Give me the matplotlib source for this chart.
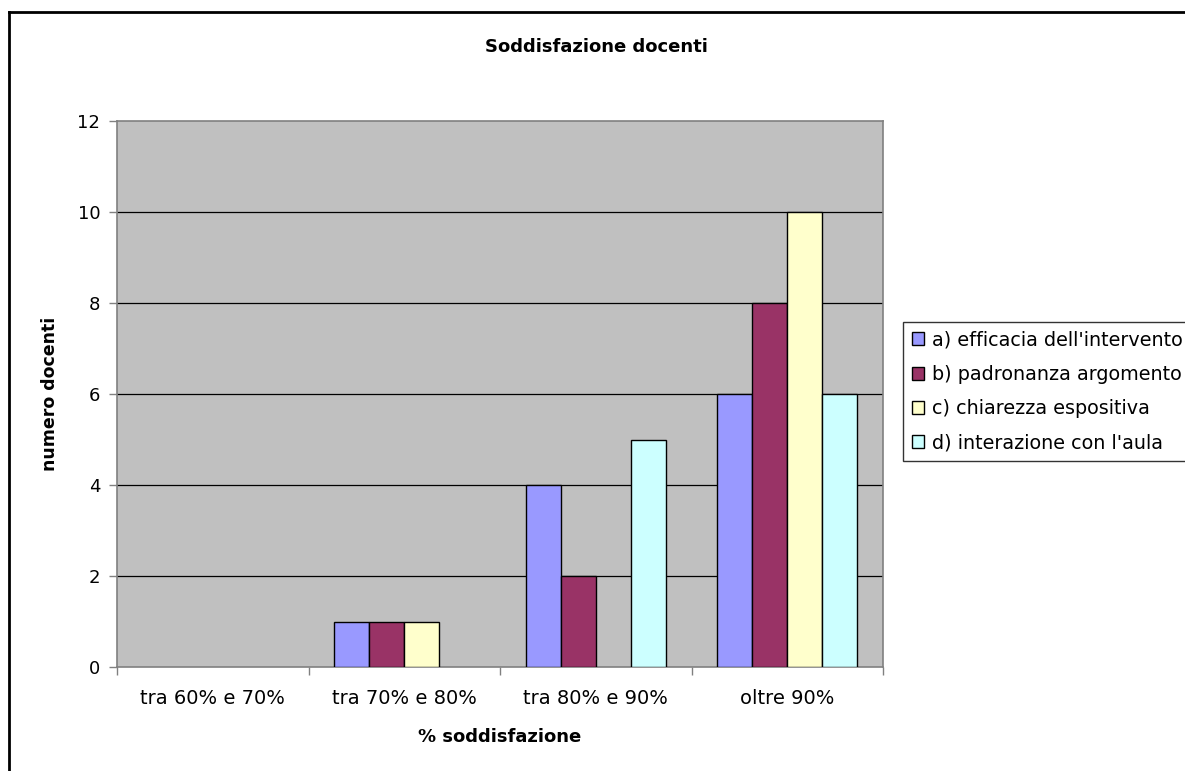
import matplotlib.pyplot as plt
import numpy as np
from matplotlib.lines import Line2D
from matplotlib.patches import Patch

categorie = ['tra 60% e 70%', 'tra 70% e 80%', 'tra 80% e 90%', 'oltre 90%']
serie = ["a) efficacia dell'intervento", 'b) padronanza argomento',
         'c) chiarezza espositiva', "d) interazione con l'aula"]
efficacia = [0, 1, 4, 6]
padronanza = [0, 1, 2, 8]
chiarezza = [0, 1, 0, 10]
interazione = [0, 0, 5, 6]
colori = ['#9999FF', '#993366', '#FFFFCC', '#CCFFFF']

plt.rcParams['font.family'] = ['DejaVu Sans']

fig = plt.figure(figsize=(11.85, 7.71), dpi=100)
ax = fig.add_axes([117/1185, 1-667/771, (883-117)/1185, (667-121)/771])
ax.set_facecolor('#C0C0C0')

x = np.arange(len(categorie))
w = 0.183
valori = [efficacia, padronanza, chiarezza, interazione]
for i, v in enumerate(valori):
    v = np.array(v)
    m = v > 0  # le barre a zero non si disegnano
    ax.bar(x[m] + (i - 1.5)*w, v[m], w, color=colori[i], edgecolor='black',
           linewidth=1, zorder=3)

ax.set_xlim(-0.5, 3.5)
ax.set_ylim(0, 12)
ax.set_yticks(range(0, 13, 2))
for yy in range(2, 12, 2):
    ax.axhline(yy, color='black', lw=0.9, zorder=1)

ax.set_xticks(x)
ax.set_xticklabels(categorie, fontsize=14)
ax.set_xticks(np.arange(-0.5, 4, 1), minor=True)
ax.tick_params(axis='x', which='major', length=0, pad=16)
ax.tick_params(axis='x', which='minor', length=6, width=1, color='#808080')
ax.tick_params(axis='y', length=6, width=1, color='#808080', labelsize=13, pad=6)

for s in ax.spines.values():
    s.set_color('#808080')
    s.set_linewidth(1.2)

ax.set_xlabel('% soddisfazione', fontsize=13, fontweight='bold', labelpad=14)
ax.set_ylabel('numero docenti', fontsize=12.5, fontweight='bold', labelpad=13)
fig.text(596/1185, 1-47/771, 'Soddisfazione docenti', fontsize=13,
         fontweight='bold', ha='center', va='center')

handles = [Patch(facecolor=c, edgecolor='black', linewidth=1) for c in colori]
leg = ax.legend(handles, serie, loc='upper left', fontsize=13.8,
                bbox_to_anchor=(903/1185, 1-322/771), bbox_transform=fig.transFigure,
                borderaxespad=0, frameon=True, fancybox=False, edgecolor='black',
                handlelength=0.65, handleheight=0.65, handletextpad=0.4,
                labelspacing=0.8, borderpad=0.45)
leg.get_frame().set_linewidth(1)

# cornice esterna del grafico
fig.add_artist(Line2D([9/1185, 9/1185], [0, 1-12/771], color='black', lw=2,
                      transform=fig.transFigure))
fig.add_artist(Line2D([9/1185, 1], [1-12/771, 1-12/771], color='black', lw=2,
                      transform=fig.transFigure))

fig.savefig('out.png', dpi=100)
